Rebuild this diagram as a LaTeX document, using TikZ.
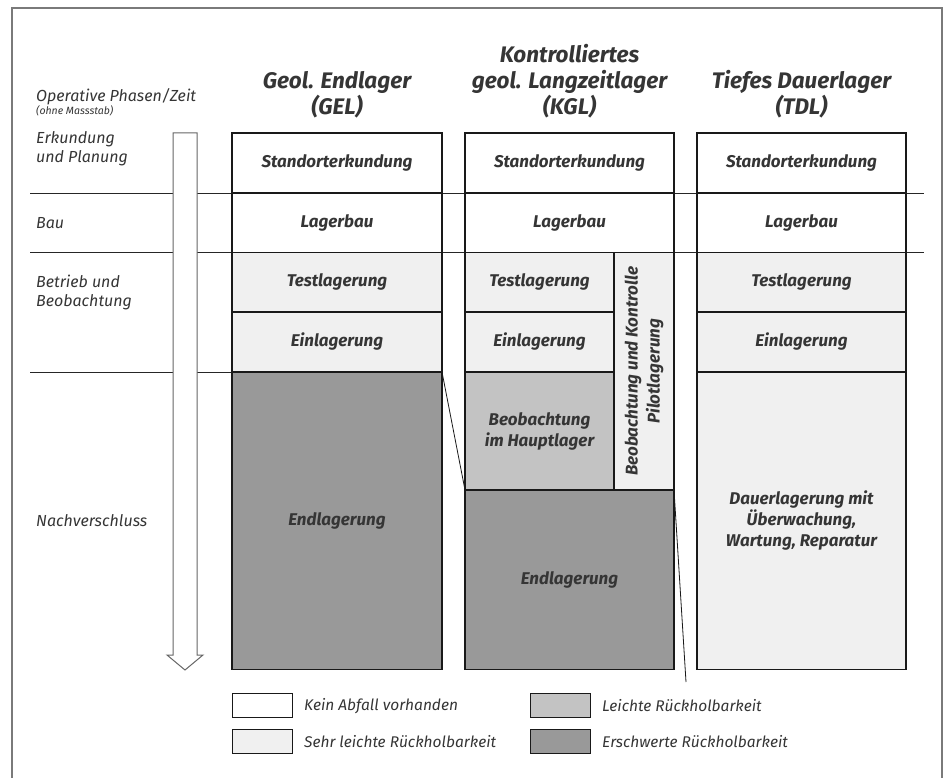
\documentclass[tikz,border=0pt]{standalone}
\usepackage{fontspec}
\setmainfont{Fira Sans}
\usetikzlibrary{positioning}
\definecolor{ink}{HTML}{353535}
\definecolor{fillA}{HTML}{F0F0F0}
\definecolor{fillB}{HTML}{C3C3C3}
\definecolor{fillC}{HTML}{999999}
\definecolor{framegray}{HTML}{7A7A7A}

\begin{document}
\begin{tikzpicture}[x=1pt,y=-1pt]
    \tikzstyle{phaseline}=[draw=black!85,line width=0.8pt]
    \tikzstyle{cell}=[draw=black!90,line width=1.1pt,rectangle,anchor=north west,inner sep=0pt,outer sep=0pt,text=ink,align=center,font=\fontsize{17}{21}\selectfont\bfseries\itshape]
    \tikzstyle{colhead}=[text=ink,align=center,font=\fontsize{22.5}{26}\selectfont\bfseries\itshape]
    \tikzstyle{phasetext}=[anchor=base west,text=ink,align=left,inner sep=0pt,font=\fontsize{16}{19.5}\selectfont\itshape]
    \tikzstyle{keybox}=[draw=black!90,line width=1pt,rectangle,anchor=north west,minimum width=60pt,minimum height=24pt,inner sep=0pt]
    \tikzstyle{keytext}=[anchor=west,text=ink,inner sep=0pt,font=\fontsize{15.5}{19}\selectfont\itshape]

    \useasboundingbox (0,0) rectangle (946,778);
    % frame, open at the bottom
    \draw[framegray,line width=1.5pt] (12,778) -- (12,8) -- (942,8) -- (942,778);

    % phase lines
    \draw[phaseline] (30,193) -- (924,193);
    \draw[phaseline] (30,252.5) -- (924,252.5);
    \draw[phaseline] (30,372) -- (232,372);

    % time arrow
    \draw[gray!80!black,line width=1pt,fill=white] (173,133) -- (197,133) -- (197,655)
      -- (203,655) -- (185,670) -- (167,655) -- (173,655) -- cycle;

    % phases
    \node[phasetext] (opTxt) at (36,101.5) {Operative Phasen/Zeit};
    \node[phasetext,font=\fontsize{10.5}{12}\selectfont\itshape] (scaleTxt) at (36,114.5) {(ohne Massstab)};
    \node[phasetext] (erkTxt) at (36,163) {Erkundung\\und Planung};
    \node[phasetext] (bauTxt) at (36,229) {Bau};
    \node[phasetext] (betTxt) at (36,307) {Betrieb und\\Beobachtung};
    \node[phasetext] (nachTxt) at (36,526) {Nachverschluss};

    % headers
    \node[colhead] (gelHead) at (337,94.5) {Geol. Endlager\\(GEL)};
    \node[colhead] (kglHead) at (569.5,81) {Kontrolliertes\\geol. Langzeitlager\\(KGL)};
    \node[colhead] (tdlHead) at (801.5,94.5) {Tiefes Dauerlager\\(TDL)};

    % GEL
    \node[cell,fill=white,minimum width=210pt,minimum height=60pt] (gelS) at (232,133) {Standorterkundung};
    \node[cell,fill=white,minimum width=210pt,minimum height=59.5pt,below=0pt of gelS] (gelB) {Lagerbau};
    \node[cell,fill=fillA,minimum width=210pt,minimum height=59.5pt,below=0pt of gelB] (gelT) {Testlagerung};
    \node[cell,fill=fillA,minimum width=210pt,minimum height=60pt,below=0pt of gelT] (gelI) {Einlagerung};
    \node[cell,fill=fillC,minimum width=210pt,minimum height=297.5pt,below=0pt of gelI] (gelD) {Endlagerung};

    % KGL
    \node[cell,fill=white,minimum width=209pt,minimum height=60pt] (kglS) at (465,133) {Standorterkundung};
    \node[cell,fill=white,minimum width=209pt,minimum height=59.5pt,below=0pt of kglS] (kglB) {Lagerbau};
    \node[cell,fill=fillA,minimum width=149pt,minimum height=59.5pt] (kglT) at (465,252.5) {Testlagerung};
    \node[cell,fill=fillA,minimum width=149pt,minimum height=60pt,below=0pt of kglT] (kglI) {Einlagerung};
    \node[cell,fill=fillB,minimum width=149pt,minimum height=118pt,below=0pt of kglI] (kglH) {Beobachtung\\im Hauptlager};
    \node[cell,fill=fillA,minimum width=60pt,minimum height=237.5pt] (kglP) at (kglT.north east) {};
    \node[cell,draw=none,fill=none,anchor=center,rotate=90,font=\fontsize{17}{22}\selectfont\bfseries\itshape] (kglPTxt) at (kglP.center) {Beobachtung und Kontrolle\\Pilotlagerung};
    \node[cell,fill=fillC,minimum width=209pt,minimum height=179.5pt] (kglD) at (kglH.south west) {Endlagerung};

    % TDL
    \node[cell,fill=white,minimum width=209pt,minimum height=60pt] (tdlS) at (697,133) {Standorterkundung};
    \node[cell,fill=white,minimum width=209pt,minimum height=59.5pt,below=0pt of tdlS] (tdlB) {Lagerbau};
    \node[cell,fill=fillA,minimum width=209pt,minimum height=59.5pt,below=0pt of tdlB] (tdlT) {Testlagerung};
    \node[cell,fill=fillA,minimum width=209pt,minimum height=60pt,below=0pt of tdlT] (tdlI) {Einlagerung};
    \node[cell,fill=fillA,minimum width=209pt,minimum height=297.5pt,below=0pt of tdlI] (tdlD) {Dauerlagerung mit\\Überwachung,\\Wartung, Reparatur};

    % links between columns
    \coordinate (kglEnd) at (686,682);
    \draw[black!90,line width=0.8pt] (gelD.north east) -- (kglD.north west);
    \draw[black!90,line width=0.8pt] (kglD.north east) -- (kglEnd);

    % legend
    \node[keybox,fill=white] (keyNone) at (232,693.3) {};
    \node[keybox,fill=fillA] (keyVery) at (232,729.3) {};
    \node[keybox,fill=fillB] (keyEasy) at (530,693.3) {};
    \node[keybox,fill=fillC] (keyHard) at (530,729.3) {};
    \node[keytext,right=11pt of keyNone] (keyNoneTxt) {Kein Abfall vorhanden};
    \node[keytext,right=11pt of keyVery] (keyVeryTxt) {Sehr leichte Rückholbarkeit};
    \node[keytext,right=11pt of keyEasy] (keyEasyTxt) {Leichte Rückholbarkeit};
    \node[keytext,right=11pt of keyHard] (keyHardTxt) {Erschwerte Rückholbarkeit};
\end{tikzpicture}
\end{document}
